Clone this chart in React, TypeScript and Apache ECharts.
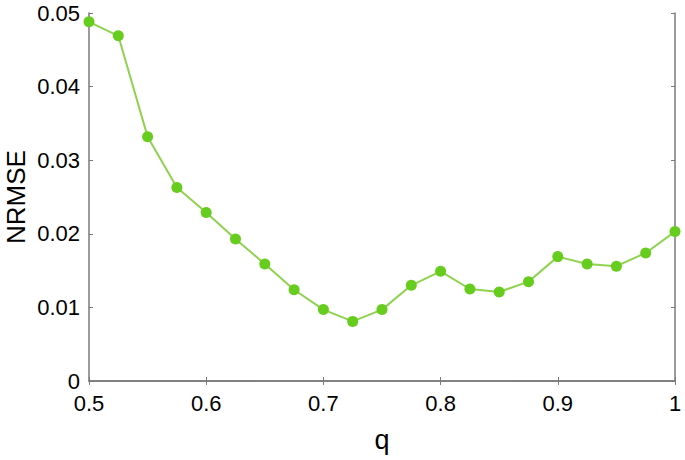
import React, { useEffect, useRef } from "react";
import * as echarts from "echarts";

const qValues = [0.5, 0.525, 0.55, 0.575, 0.6, 0.625, 0.65, 0.675, 0.7, 0.725, 0.75, 0.775, 0.8, 0.825, 0.85, 0.875, 0.9, 0.925, 0.95, 0.975, 1.0];
const nrmse = [0.0488, 0.0469, 0.0332, 0.0263, 0.0229, 0.0193, 0.0159, 0.0124, 0.0097, 0.0081, 0.0097, 0.0130, 0.0149, 0.0125, 0.0121, 0.0135, 0.0169, 0.0159, 0.0156, 0.0174, 0.0203];
const xTickLabels = ["0.5", "0.6", "0.7", "0.8", "0.9", "1"];
const yTickLabels = ["0", "0.01", "0.02", "0.03", "0.04", "0.05"];

export default function App() {
  const ref = useRef<HTMLDivElement>(null);
  useEffect(() => {
    if (!ref.current) return;
    const chart = echarts.init(ref.current, null, { renderer: "svg" });
    const font = "Liberation Sans, Arial, sans-serif";
    const axisLine = { show: true, lineStyle: { color: "#7a7a7a", width: 1.5 } };
    const tick = { show: true, inside: true, length: 4, lineStyle: { color: "#7a7a7a", width: 1 } };
    chart.setOption({
      animation: false,
      backgroundColor: "#ffffff",
      grid: { left: 89, top: 13, right: 10, bottom: 79, containLabel: false, outerBoundsMode: "none" },
      xAxis: [
        {
          type: "value",
          min: 0.5,
          max: 1,
          interval: 0.1,
          position: "bottom",
          name: "q",
          nameLocation: "middle",
          nameGap: 45,
          nameTextStyle: { fontFamily: font, fontSize: 27, color: "#000" },
          axisLine,
          axisTick: tick,
          splitLine: { show: false },
          axisLabel: {
            fontFamily: font,
            fontSize: 22,
            color: "#000",
            margin: 11,
            formatter: (v: number) => {
              const idx = Math.round((v - 0.5) / 0.1);
              return xTickLabels[idx] ?? "";
            },
          },
        },
        {
          type: "value",
          min: 0.5,
          max: 1,
          interval: 0.1,
          position: "top",
          axisLine,
          axisTick: tick,
          axisLabel: { show: false },
          splitLine: { show: false },
        },
      ],
      yAxis: [
        {
          type: "value",
          min: 0,
          max: 0.05,
          interval: 0.01,
          position: "left",
          name: "NRMSE",
          nameLocation: "middle",
          nameGap: 60,
          nameMoveOverlap: false,
          nameTextStyle: { fontFamily: font, fontSize: 26, color: "#000" },
          axisLine,
          axisTick: tick,
          splitLine: { show: false },
          axisLabel: {
            fontFamily: font,
            fontSize: 22,
            color: "#000",
            margin: 9,
            formatter: (v: number) => {
              const idx = Math.round(v / 0.01);
              return yTickLabels[idx] ?? "";
            },
          },
        },
        {
          type: "value",
          min: 0,
          max: 0.05,
          interval: 0.01,
          position: "right",
          axisLine,
          axisTick: tick,
          axisLabel: { show: false },
          splitLine: { show: false },
        },
      ],
      series: [
        {
          type: "line",
          data: qValues.map((q, i) => [q, nrmse[i]]),
          symbol: "circle",
          symbolSize: 11,
          lineStyle: { color: "#8fd24f", width: 2 },
          itemStyle: { color: "#66cc1e" },
          clip: false,
        },
      ],
    });
    return () => chart.dispose();
  }, []);
  return <div ref={ref} style={{ width: 685, height: 460, position: "absolute", left: 0, top: 0 }} />;
}
